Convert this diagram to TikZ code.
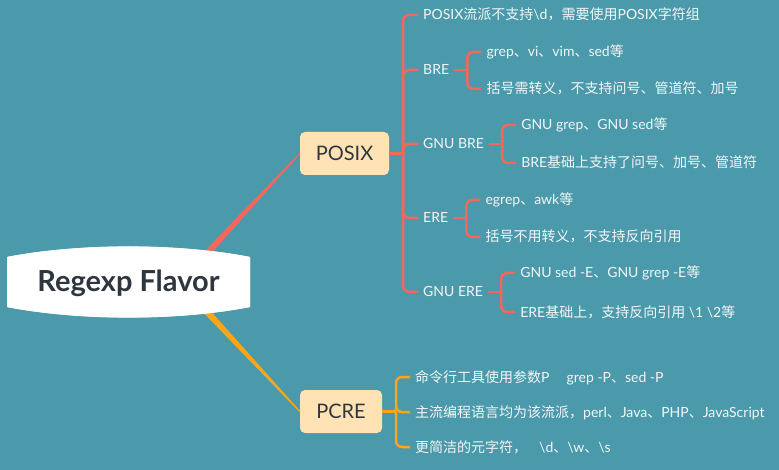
\documentclass[tikz,border=0pt]{standalone}
\usepackage{fontspec}
\setmainfont{Noto Sans CJK SC}
\newfontfamily\latofont{Lato}
\newcommand\lat[1]{{\latofont #1}}
\usetikzlibrary{calc}
\definecolor{bg}{HTML}{4A9AAC}
\definecolor{lred}{HTML}{F5675A}
\definecolor{lorange}{HTML}{FFA516}
\definecolor{boxfill}{HTML}{FFE3B5}
\definecolor{itemtext}{HTML}{F4F6F6}
\definecolor{darktext}{HTML}{2E3640}
\begin{document}
\begin{tikzpicture}[x=1pt,y=-1pt,
  item/.style={anchor=west, text=itemtext, font=\fontsize{14}{16}\selectfont,
    inner xsep=5pt, inner ysep=0pt, text height=12pt, text depth=2pt},
  mainbox/.style={fill=boxfill, rounded corners=5pt, text=darktext,
    font=\latofont\fontsize{20}{24}\selectfont, inner sep=0pt},
  redline/.style={draw=lred, line width=2.5pt, rounded corners=6pt},
  orangeline/.style={draw=lorange, line width=2.5pt, rounded corners=6pt}]
\fill[bg] (0,0) rectangle (779,470);
\useasboundingbox (0,0) rectangle (779,470);

% main topic boxes
\node[mainbox, minimum width=89pt, minimum height=43pt] (posix) at (344.5,153.5) {POSIX};
\node[mainbox, minimum width=82pt, minimum height=43pt] (pcre) at (341,411.5) {PCRE};

% tapered connectors from root
\coordinate (rtop) at (196,265);
\coordinate (rbot) at (196,300);
\fill[lred] ($(rtop)!3.5pt!90:(posix.west)$) -- ($(posix.west)!0.6pt!-90:(rtop)$)
  -- ($(posix.west)!0.6pt!90:(rtop)$) -- ($(rtop)!3.5pt!-90:(posix.west)$) -- cycle;
\fill[lorange] ($(rbot)!3.5pt!90:(pcre.west)$) -- ($(pcre.west)!0.6pt!-90:(rbot)$)
  -- ($(pcre.west)!0.6pt!90:(rbot)$) -- ($(rbot)!3.5pt!-90:(pcre.west)$) -- cycle;

% root
\fill[white] (7,257) .. controls (80,243) and (177,243) .. (250,257) -- (250,307)
  .. controls (177,321) and (80,321) .. (7,307) -- cycle;
\draw[white, line width=3pt, line join=round] (8.5,258.2) .. controls (80,244.5) and (177,244.5) .. (248.5,258.2) -- (248.5,305.8)
  .. controls (177,319.5) and (80,319.5) .. (8.5,305.8) -- cycle;
\node[anchor=base, text=darktext, font=\latofont\bfseries\fontsize{29}{34}\selectfont, inner sep=0pt] (root) at (128.5,292) {Regexp Flavor};

% POSIX branch
\coordinate (jp) at (403,153.5);
\draw[draw=lred, line width=2.5pt] (posix.east) -- (jp);
\node[item] (p1) at (418,15) {\lat{POSIX}流派不支持\lat{\textbackslash d}，需要使用\lat{POSIX}字符组};
\node[item] (bre) at (418,70) {\lat{BRE}};
\node[item] (gbre) at (418,144) {\lat{GNU BRE}};
\node[item] (ere) at (418,218) {\lat{ERE}};
\node[item] (gere) at (418,292) {\lat{GNU ERE}};
\foreach \c in {p1,bre,gbre,ere,gere}{
  \draw[redline] (jp) -- (jp |- \c.west) -- (\c.west);
}

% BRE children
\path (bre.east) ++(27,-18) node[item] (bre1) {\lat{grep}、\lat{vi}、\lat{vim}、\lat{sed}等};
\path (bre.east) ++(27,19) node[item] (bre2) {括号需转义，不支持问号、管道符、加号};
\coordinate (jbre) at ($(bre.east)+(13,0)$);
\draw[draw=lred, line width=2.5pt] (bre.east) -- (jbre);
\foreach \c in {bre1,bre2}{\draw[redline] (jbre) -- (jbre |- \c.west) -- (\c.west);}

% GNU BRE children
\path (gbre.east) ++(27,-19) node[item] (gbre1) {\lat{GNU grep}、\lat{GNU sed}等};
\path (gbre.east) ++(27,19) node[item] (gbre2) {\lat{BRE}基础上支持了问号、加号、管道符};
\coordinate (jgbre) at ($(gbre.east)+(13,0)$);
\draw[draw=lred, line width=2.5pt] (gbre.east) -- (jgbre);
\foreach \c in {gbre1,gbre2}{\draw[redline] (jgbre) -- (jgbre |- \c.west) -- (\c.west);}

% ERE children
\path (ere.east) ++(27,-18) node[item] (ere1) {\lat{egrep}、\lat{awk}等};
\path (ere.east) ++(27,19) node[item] (ere2) {括号不用转义，不支持反向引用};
\coordinate (jere) at ($(ere.east)+(13,0)$);
\draw[draw=lred, line width=2.5pt] (ere.east) -- (jere);
\foreach \c in {ere1,ere2}{\draw[redline] (jere) -- (jere |- \c.west) -- (\c.west);}

% GNU ERE children
\path (gere.east) ++(27,-19) node[item] (gere1) {\lat{GNU sed -E}、\lat{GNU grep -E}等};
\path (gere.east) ++(27,20) node[item] (gere2) {\lat{ERE}基础上，支持反向引用\lat{ \textbackslash 1 \textbackslash 2}等};
\coordinate (jgere) at ($(gere.east)+(13,0)$);
\draw[draw=lred, line width=2.5pt] (gere.east) -- (jgere);
\foreach \c in {gere1,gere2}{\draw[redline] (jgere) -- (jgere |- \c.west) -- (\c.west);}

% PCRE branch
\coordinate (jc) at (396,411.5);
\draw[draw=lorange, line width=2.5pt] (pcre.east) -- (jc);
\node[item] (c1) at (410,377) {命令行工具使用参数\lat{P}\hspace{17pt}\lat{grep -P}、\lat{sed -P}};
\node[item] (c2) at (410,412) {主流编程语言均为该流派，\lat{perl}、\lat{Java}、\lat{PHP}、\lat{JavaScript}};
\node[item] (c3) at (410,447) {更简洁的元字符，\hspace{12pt}\lat{\textbackslash d}、\lat{\textbackslash w}、\lat{\textbackslash s}};
\foreach \c in {c1,c2,c3}{
  \draw[orangeline] (jc) -- (jc |- \c.west) -- (\c.west);
}
\end{tikzpicture}
\end{document}
